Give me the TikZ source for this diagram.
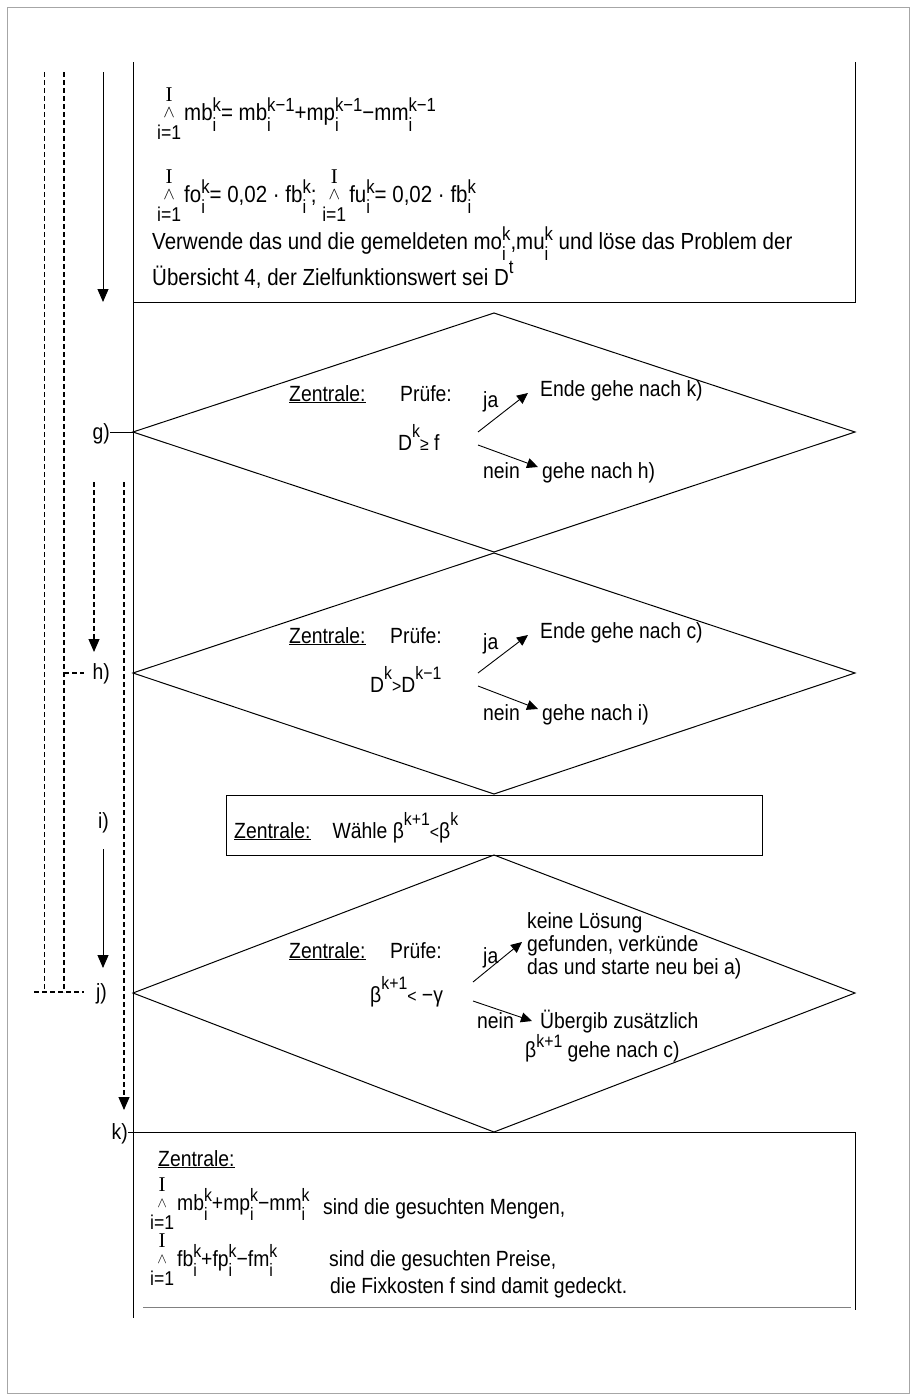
\documentclass[tikz,border=0pt]{standalone}
\usepackage{fontspec}
\setmainfont{Liberation Sans}[FakeStretch=0.88]
\newfontfamily\serifI{Liberation Serif}
\usetikzlibrary{arrows.meta}
\newcommand\smfs{\fontsize{18}{18}\selectfont}
\newcommand\mainfs{\fontsize{22}{26}\selectfont}
\newcommand\topfs{\fontsize{23.3}{27}\selectfont\renewcommand\smfs{\fontsize{19}{19}\selectfont}}
\newcommand\SupSub[2]{\leavevmode\rlap{\raisebox{-0.48em}{\smfs #2}}\raisebox{0.38em}{\smfs #1}}
\newcommand\Sup[1]{\raisebox{0.55em}{\smfs #1}}
\newcommand\Rel[1]{{\smfs #1}}
\newcommand\Bop{\setbox0\hbox{\fontsize{20}{20}\selectfont i=1}\hbox to \wd0{\hss\makebox[0pt]{\raisebox{19pt}{\fontsize{21}{21}\selectfont\serifI I}}\makebox[0pt]{\raisebox{-19pt}{\fontsize{20}{20}\selectfont i=1}}\makebox[0pt]{\raisebox{3pt}{$\scriptstyle\wedge$}}\hss}\kern3pt}
\tikzset{
  txt/.style={anchor=base west, inner sep=0pt, font=\mainfs},
  ttxt/.style={anchor=base west, inner sep=0pt, font=\topfs},
  lbl/.style={anchor=base east, inner sep=0pt, font=\mainfs},
  boxline/.style={line width=1pt, black},
  arrS/.style={line width=1pt, -{Triangle[width=11pt,length=13pt]}},
  arrD/.style={line width=1.1pt, dash pattern=on 5pt off 3pt, -{Triangle[width=11pt,length=13pt]}},
  arrI/.style={line width=0.9pt, -{Triangle[width=10pt,length=11pt]}},
  dashthin/.style={line width=0.8pt, dash pattern=on 5pt off 3pt},
  dashthick/.style={line width=1.4pt, dash pattern=on 5pt off 3pt},
}
\begin{document}
\begin{tikzpicture}[x=1pt,y=-1pt]
\useasboundingbox (0,0) rectangle (916,1400);
\draw[gray!70, line width=0.8pt] (7,7) rectangle (909,1393);

% coordinates
\coordinate (tbTop) at (133,62);
\coordinate (tbBL) at (133,302);
\coordinate (tbBR) at (855,302);
\coordinate (tbTR) at (855,62);
\coordinate (leftEnd) at (133,1318);

\coordinate (d1t) at (494,313); \coordinate (d1l) at (133,432);
\coordinate (d1r) at (855,432); \coordinate (d1b) at (494,552);
\coordinate (d2t) at (494,553); \coordinate (d2l) at (133,673);
\coordinate (d2r) at (855,673); \coordinate (d2b) at (494,794);
\coordinate (d3t) at (494,855); \coordinate (d3l) at (133,993);
\coordinate (d3r) at (855,993); \coordinate (d3b) at (494,1132);

% top box (open at the top) and long left line
\draw[boxline] (tbTop) -- (leftEnd);
\draw[boxline] (tbBL) -- (tbBR) -- (tbTR);

% diamonds
\draw[boxline] (d1l) -- (d1t) -- (d1r) -- (d1b) -- cycle;
\draw[boxline] (d2l) -- (d2t) -- (d2r) -- (d2b) -- cycle;
\draw[boxline] (d3l) -- (d3t) -- (d3r) -- (d3b) -- cycle;

% box W
\node[draw, line width=1pt, minimum width=536pt, minimum height=60pt, inner sep=0pt, anchor=north west] (boxW) at (226,795) {};

% bottom box
\coordinate (bbTL) at (133,1132);
\coordinate (bbTR) at (855,1132);
\coordinate (bbBR) at (855,1310);
\draw[boxline] (bbTL) -- (bbTR) -- (bbBR);
\coordinate (bbL) at (143,1307);
\coordinate (bbR) at (851,1307);
\draw[gray, line width=0.7pt] (bbL) -- (bbR);

% ---- left side lines
\coordinate (a1) at (44,72);  \coordinate (a2) at (44,992);
\coordinate (b1) at (64,72);  \coordinate (b2) at (64,992);
\coordinate (jl) at (34,992); \coordinate (jr) at (84,992);
\coordinate (hl) at (64,673); \coordinate (hr) at (84,673);
\coordinate (s1) at (103,72); \coordinate (s2) at (103,302);
\coordinate (c1) at (94,482); \coordinate (c2) at (94,652);
\coordinate (e1) at (124,482); \coordinate (e2) at (124,1110);
\coordinate (s3) at (103,849); \coordinate (s4) at (103,968);
\draw[dashthin] (a1) -- (a2);
\draw[dashthick] (b1) -- (b2);
\draw[dashthick] (jl) -- (jr);
\draw[dashthick] (hl) -- (hr);
\draw[arrS] (s1) -- (s2);
\draw[arrD] (c1) -- (c2);
\draw[arrD] (e1) -- (e2);
\draw[arrS] (s3) -- (s4);

\node[lbl] (lg) at (110,439) {g)};
\node[lbl] (lh) at (110,679) {h)};
\node[lbl] (li) at (109,828) {i)};
\node[lbl] (lj) at (107,999) {j)};
\node[lbl] (lk) at (128,1139) {k)};
\draw[boxline] (lg.east |- d1l) -- (d1l);
\draw[boxline] (lk.east |- bbTL) -- (bbTL);

% ---- top box text
\node[ttxt] (f1) at (157,120) {\Bop mb\SupSub{k}{i}= mb\SupSub{k−1}{i}+mp\SupSub{k−1}{i}−mm\SupSub{k−1}{i}};
\node[ttxt] (f2) at (157,202) {\Bop fo\SupSub{k}{i}= 0,02 · fb\SupSub{k}{i}; \Bop fu\SupSub{k}{i}= 0,02 · fb\SupSub{k}{i}};
\node[ttxt] (t3) at (152,249) {Verwende das und die gemeldeten mo\SupSub{k}{i},mu\SupSub{k}{i} und löse das Problem der};
\node[ttxt] (t4) at (152,285) {Übersicht 4, der Zielfunktionswert sei D\raisebox{0.5em}{\smfs t}};

% ---- diamond 1
\node[txt] (z1) at (289,401) {\underline{Zentrale:}};
\node[txt] (p1) at (400,401) {Prüfe:};
\node[txt] (ja1) at (483,407) {ja};
\node[txt] (en1) at (540,396) {Ende gehe nach k)};
\node[txt] (c1t) at (398,450) {D\Sup{k}\Rel{≥} f};
\node[txt] (ne1) at (483,478) {nein};
\node[txt] (g1) at (542,478) {gehe nach h)};
\coordinate (ja1s) at (478,432); \coordinate (ja1e) at (528,393);
\coordinate (ne1s) at (478,445); \coordinate (ne1e) at (538,467);
\draw[arrI] (ja1s) -- (ja1e);
\draw[arrI] (ne1s) -- (ne1e);

% ---- diamond 2
\node[txt] (z2) at (289,643) {\underline{Zentrale:}};
\node[txt] (p2) at (390,643) {Prüfe:};
\node[txt] (ja2) at (483,649) {ja};
\node[txt] (en2) at (540,638) {Ende gehe nach c)};
\node[txt] (c2t) at (370,692) {D\Sup{k}\Rel{>}D\Sup{k−1}};
\node[txt] (ne2) at (483,720) {nein};
\node[txt] (g2) at (542,720) {gehe nach i)};
\coordinate (ja2s) at (478,673); \coordinate (ja2e) at (528,635);
\coordinate (ne2s) at (478,686); \coordinate (ne2e) at (538,709);
\draw[arrI] (ja2s) -- (ja2e);
\draw[arrI] (ne2s) -- (ne2e);

% ---- box W text
\node[txt] (zw) at (234,838) {\underline{Zentrale:}\quad Wähle β\Sup{k+1}\Rel{<}β\Sup{k}};

% ---- diamond 3
\node[txt] (z3) at (289,958) {\underline{Zentrale:}};
\node[txt] (p3) at (390,958) {Prüfe:};
\node[txt] (ja3) at (483,963) {ja};
\node[txt] (kl1) at (527,928) {keine Lösung};
\node[txt] (kl2) at (527,951) {gefunden, verkünde};
\node[txt] (kl3) at (527,974) {das und starte neu bei a)};
\node[txt] (c3t) at (370,1002) {β\Sup{k+1}\Rel{<} −γ};
\node[txt] (ne3) at (477,1028) {nein};
\node[txt] (ub1) at (540,1028) {Übergib zusätzlich};
\node[txt] (ub2) at (525,1057) {β\raisebox{0.45em}{\smfs k+1} gehe nach c)};
\coordinate (ja3s) at (473,982); \coordinate (ja3e) at (522,942);
\coordinate (ne3s) at (473,1001); \coordinate (ne3e) at (532,1021);
\draw[arrI] (ja3s) -- (ja3e);
\draw[arrI] (ne3s) -- (ne3e);

% ---- bottom box text
\node[txt] (zb) at (158,1166) {\underline{Zentrale:}};
\node[txt] (fb1) at (150,1210) {\Bop mb\SupSub{k}{i}+mp\SupSub{k}{i}−mm\SupSub{k}{i}};
\node[txt] (tb1) at (323,1214) {sind die gesuchten Mengen,};
\node[txt] (fb2) at (150,1266) {\Bop fb\SupSub{k}{i}+fp\SupSub{k}{i}−fm\SupSub{k}{i}};
\node[txt] (tb2) at (329,1266) {sind die gesuchten Preise,};
\node[txt] (tb3) at (330,1293) {die Fixkosten f sind damit gedeckt.};
\end{tikzpicture}
\end{document}
